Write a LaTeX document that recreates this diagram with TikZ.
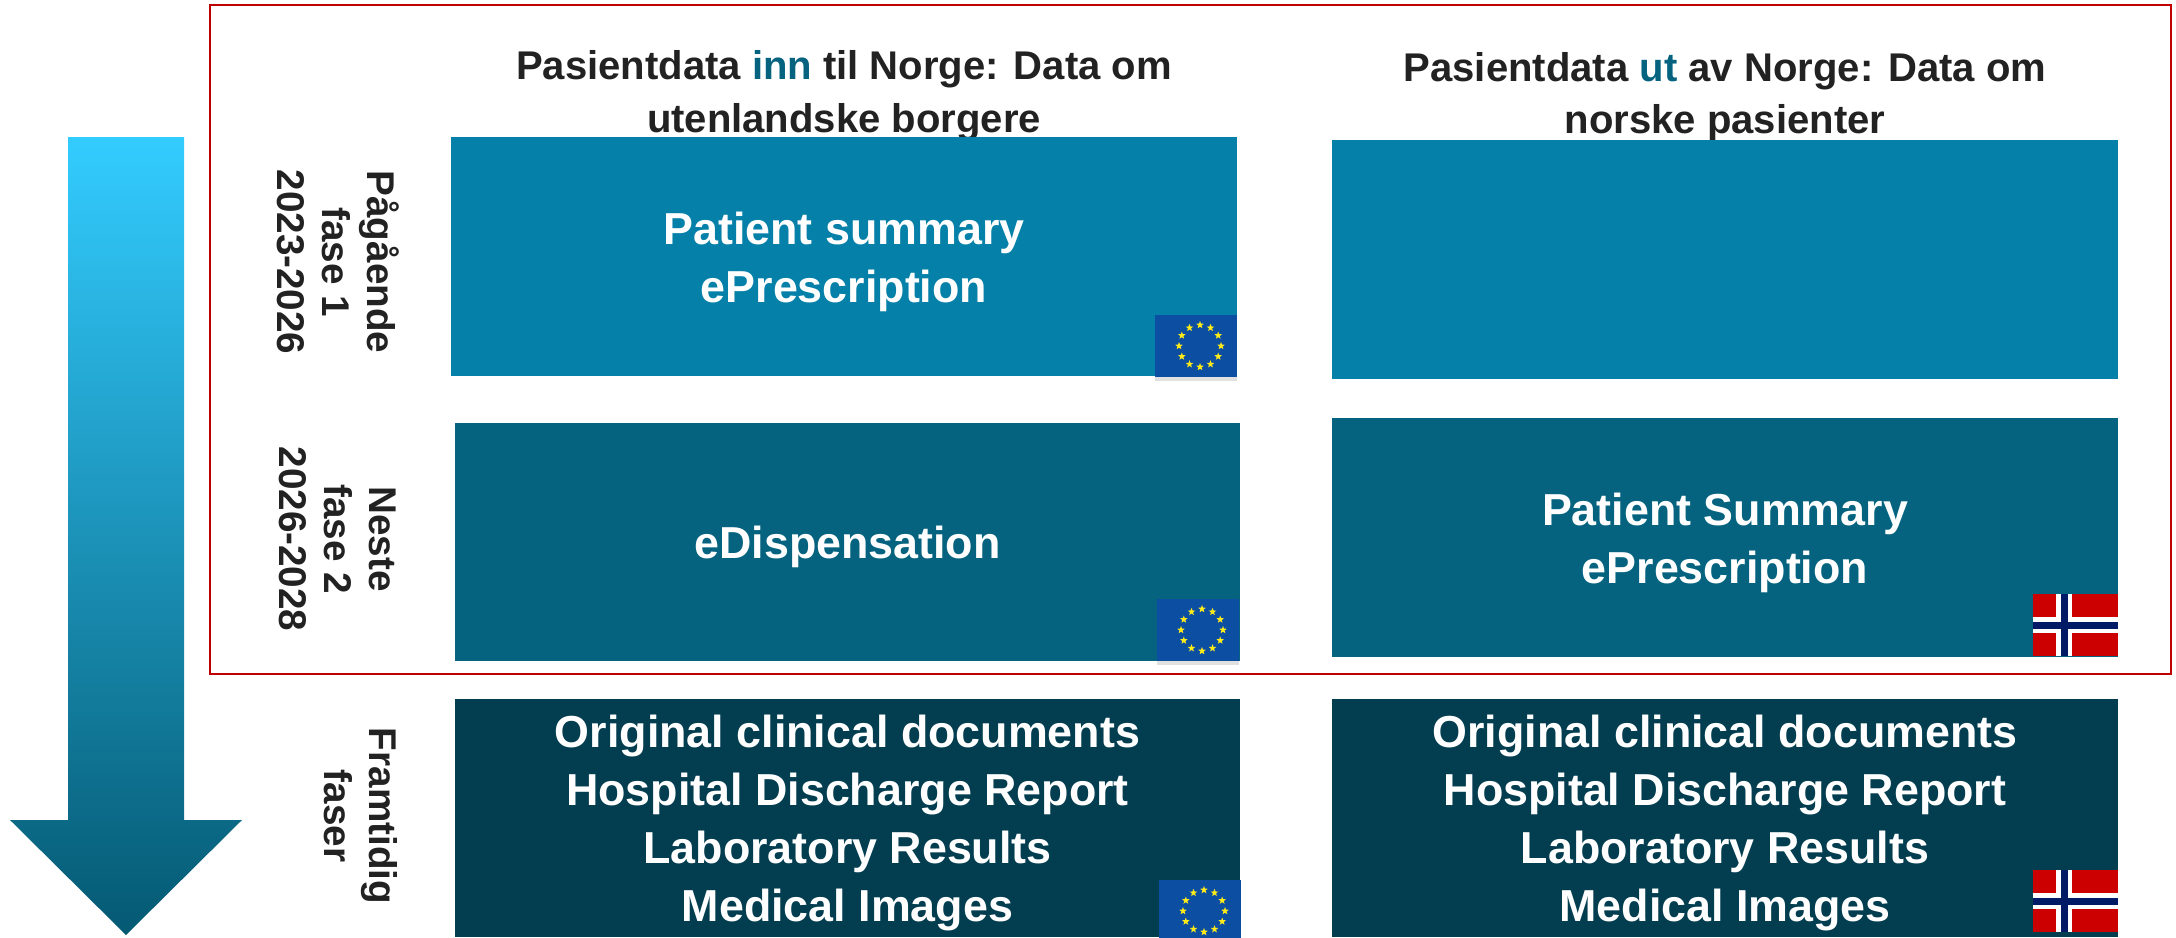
\documentclass[tikz,border=0pt]{standalone}
\usepackage{fontspec}
\setmainfont{Liberation Sans}
\usetikzlibrary{shapes.geometric,shadows}
\definecolor{lysbla}{HTML}{33CCFF}
\definecolor{midtbla}{HTML}{0A86AD}
\definecolor{fase1}{HTML}{0580A8}
\definecolor{fase2}{HTML}{05637F}
\definecolor{fase3}{HTML}{033D50}
\definecolor{rammerod}{HTML}{C00000}
\definecolor{flaggrod}{HTML}{CC0000}
\definecolor{flaggbla}{HTML}{001A66}
\definecolor{eubla}{HTML}{0B4EA2}
\definecolor{eugul}{HTML}{FFEB1A}
\definecolor{tekst}{HTML}{222222}
\tikzset{
  heading/.style={text=tekst,align=center,font=\fontsize{22.8}{30}\selectfont\bfseries},
  boxtext/.style={text=white,align=center,yshift=-2.8pt,font=\fontsize{25.5}{33}\selectfont\bfseries},
  sidetext/.style={text=tekst,align=center,rotate=-90,font=\fontsize{22}{25.6}\selectfont\bfseries},
  eustar/.style={star,star points=5,star point ratio=2.4,fill=eugul,inner sep=0pt,minimum size=8*0.569pt}
}
\newcommand{\euflag}[3]{
  \fill[eubla,drop shadow={fill=black,shadow xshift=0pt,shadow yshift=-2pt,opacity=0.12}] (#2,#3) rectangle (#2+82,#3+62);
  \foreach \s in {0,30,...,330}
    \node[eustar] (#1\s) at ({#2+45+21*cos(\s)},{#3+31+21*sin(\s)}) {};
}
\newcommand{\noflag}[2]{
  \fill[flaggrod] (#1,#2) rectangle (#1+85,#2+62);
  \fill[white] (#1+23,#2) rectangle (#1+39,#2+62);
  \fill[white] (#1,#2+23) rectangle (#1+85,#2+39);
  \fill[flaggbla] (#1+28,#2) rectangle (#1+35,#2+62);
  \fill[flaggbla] (#1,#2+28) rectangle (#1+85,#2+35);
}
\begin{document}
\begin{tikzpicture}
[x=0.02cm,y=-0.02cm]
\useasboundingbox (0,0) rectangle (2176,937);

% pil
\shade[top color=lysbla,middle color=midtbla,bottom color=fase2!90!black]
(68,137) -- (184,137) -- (184,820) -- (242,820) -- (126,935) -- (10,820) -- (68,820) -- cycle;

\draw[rammerod,line width=1.6pt] (210,5) rectangle (2171,674);

\node[heading] (inn) at (844,96) {Pasientdata \textcolor{fase2}{inn} til Norge: Data om\\utenlandske borgere};
\node[heading] (ut) at (1725,97) {Pasientdata \textcolor{fase2}{ut} av Norge: Data om\\norske pasienter};

\node[sidetext] (fase1) at (338,262) {Pågående\\fase 1\\2023-2026};
\node[sidetext] (fase2) at (338,539) {Neste\\fase 2\\2026-2028};
\node[sidetext] (faser) at (361,816) {Framtidig\\faser};

\fill[fase1] (451,137) rectangle (1237,376) node[midway,boxtext] (a1) {Patient summary\\ePrescription};
\fill[fase1] (1332,140) rectangle (2118,379);
\fill[fase2] (455,423) rectangle (1240,661) node[midway,boxtext] (a2) {eDispensation};
\fill[fase2] (1332,418) rectangle (2118,657) node[midway,boxtext] (b2) {Patient Summary\\ePrescription};
\fill[fase3] (455,699) rectangle (1240,937) node[midway,boxtext] (a3) {Original clinical documents\\Hospital Discharge Report\\Laboratory Results\\Medical Images};
\fill[fase3] (1332,699) rectangle (2118,937) node[midway,boxtext] (b3) {Original clinical documents\\Hospital Discharge Report\\Laboratory Results\\Medical Images};

\euflag{eua}{1155}{315}
\euflag{eub}{1157}{599}
\euflag{euc}{1159}{880}
\noflag{2033}{594}
\noflag{2033}{870}
\end{tikzpicture}
\end{document}
